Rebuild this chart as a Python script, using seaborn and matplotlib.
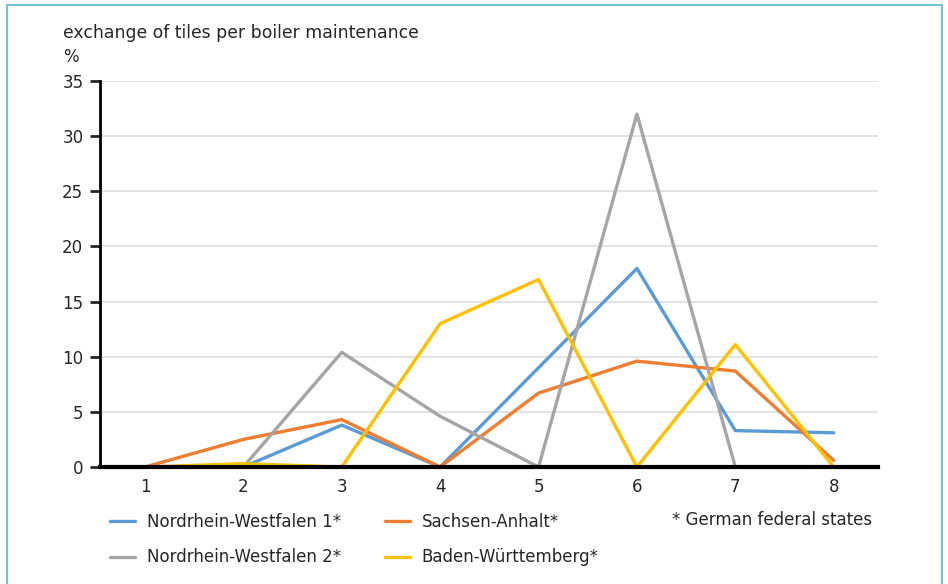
import numpy as np
import pandas as pd
import seaborn as sns
import matplotlib.pyplot as plt
from matplotlib.lines import Line2D

# data
positions = [1, 2, 3, 4, 5, 6, 7, 8]
series_names = ["Nordrhein-Westfalen 1*", "Sachsen-Anhalt*", "Nordrhein-Westfalen 2*", "Baden-Württemberg*"]
nrw1 = [0, 0, 3.8, 0, 9.0, 18.0, 3.3, 3.1]
sachsen = [0, 2.5, 4.3, 0, 6.7, 9.6, 8.7, 0.6]
nrw2 = [0, 0, 10.4, 4.6, 0, 32.0, 0, np.nan]
bw = [0, 0.3, 0, 13.0, 17.0, 0, 11.1, 0]
colors = ["#5B9BD5", "#ED7D31", "#A5A5A5", "#FFC000"]
y_ticks = [0, 5, 10, 15, 20, 25, 30, 35]

frames = []
for name, vals in zip(series_names, [nrw1, sachsen, nrw2, bw]):
    frames.append(pd.DataFrame({"pos": positions, "value": vals, "state": name}))
df = pd.concat(frames, ignore_index=True)

sns.set_style("white")
plt.rcParams['font.family'] = ['DejaVu Sans']
plt.rcParams['font.size'] = 12

fig = plt.figure(figsize=(9.48, 5.84), dpi=100)
ax = fig.add_axes([100 / 948, 1 - 467 / 584, 778 / 948, 386 / 584])

sns.lineplot(data=df, x="pos", y="value", hue="state", hue_order=series_names,
             palette=colors, linewidth=2.4, ax=ax, legend=True)

ax.set_xlim(0.543, 8.45)
ax.set_ylim(0, 35)
ax.set_xticks(positions)
ax.set_yticks(y_ticks)
ax.set_xlabel("")
ax.set_ylabel("")
ax.yaxis.grid(True, color="#e0e0e0", linewidth=1.3)
ax.set_axisbelow(True)
for side in ["top", "right"]:
    ax.spines[side].set_visible(False)
ax.spines["left"].set_linewidth(2)
ax.spines["bottom"].set_linewidth(3)
ax.spines["left"].set_color("black")
ax.spines["bottom"].set_color("black")
ax.tick_params(axis="y", length=7, width=2, direction="out", left=True, pad=5, labelsize=12)
ax.tick_params(axis="x", length=0, pad=8, labelsize=12)

# legend: two columns of lines, then the footnote
handles, labels = ax.get_legend_handles_labels()
order = [0, 2, 1, 3]
ax.get_legend().remove()
fig.legend([handles[i] for i in order], [labels[i] for i in order], ncol=2,
           loc="upper left", bbox_to_anchor=(95 / 948, 1 - 498 / 584),
           frameon=False, fontsize=12, handlelength=1.5, handletextpad=0.7,
           columnspacing=2.65, labelspacing=1.05)
fig.text(672 / 948, 1 - 520 / 584, "* German federal states", fontsize=12, va="center")

fig.text(63 / 948, 1 - 33 / 584, "exchange of tiles per boiler maintenance", fontsize=12.4, va="center")
fig.text(63 / 948, 1 - 57 / 584, "%", fontsize=12, va="center")

# light teal frame around the figure
frame_col = "#6CC5D3"
fig.add_artist(Line2D([7 / 948, 7 / 948], [0, 1 - 5 / 584], color=frame_col, linewidth=1.5, transform=fig.transFigure))
fig.add_artist(Line2D([7 / 948, 942 / 948], [1 - 5 / 584, 1 - 5 / 584], color=frame_col, linewidth=1.5, transform=fig.transFigure))
fig.add_artist(Line2D([942 / 948, 942 / 948], [0, 1 - 5 / 584], color=frame_col, linewidth=1.5, transform=fig.transFigure))

fig.savefig("out.png", dpi=100)
